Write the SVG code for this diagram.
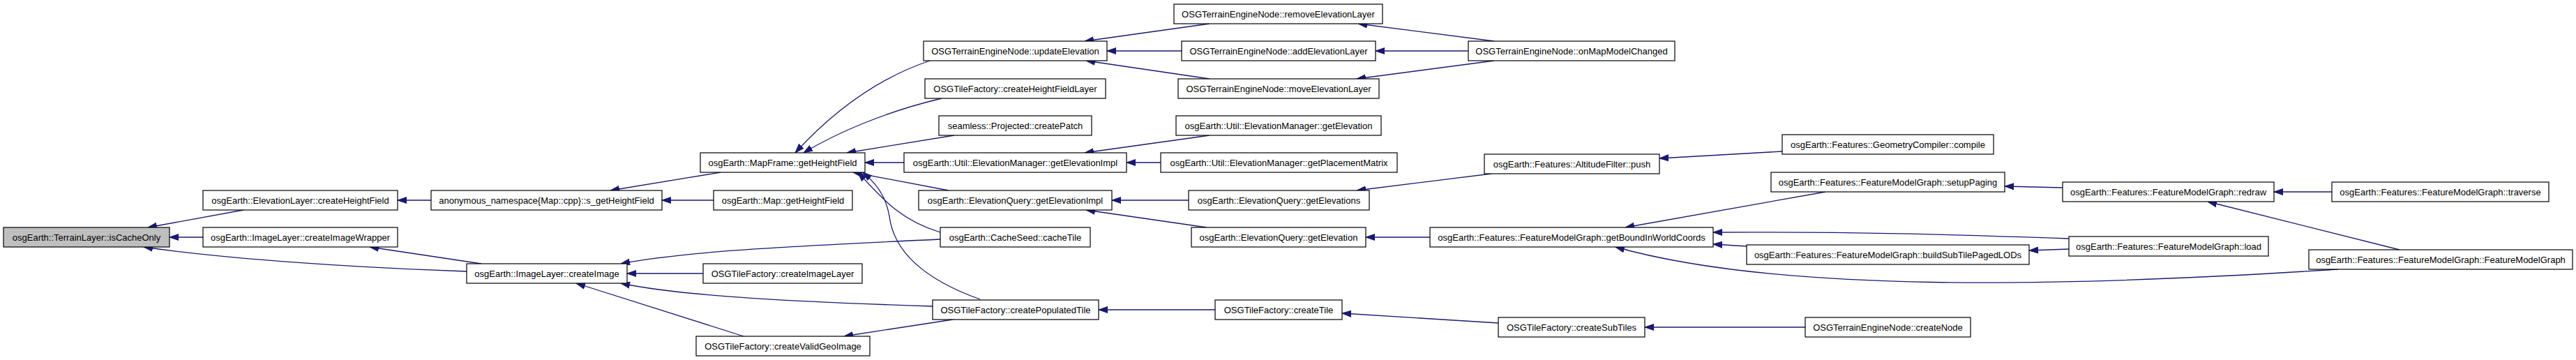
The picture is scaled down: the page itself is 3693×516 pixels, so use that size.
<svg xmlns="http://www.w3.org/2000/svg" width="3693" height="516" viewBox="0 0 3693 516">
<style>
.n{fill:#ffffff;stroke:#000000;stroke-width:1.2}
.root{fill:#bfbfbf;stroke:#000000;stroke-width:1.2}
text{font-family:"Liberation Sans",Arial,Helvetica,sans-serif;font-size:13px;fill:#000000;text-anchor:middle}
.e{fill:none;stroke:#191970;stroke-width:1.3;marker-end:url(#arr)}
</style>
<defs>
<marker id="arr" markerUnits="userSpaceOnUse" markerWidth="13" markerHeight="10" refX="13" refY="5" orient="auto">
<path d="M0,0.5 L13,5 L0,9.5 z" fill="#191970" stroke="#191970" stroke-width="1"/>
</marker>
</defs>
<rect width="3693" height="516" fill="#ffffff"/>
<g id="connectors">
<path class="e" d="M349,301 L212,326"/>
<path class="e" d="M291,340 L243,340"/>
<path class="e" d="M669,389 C520,384 330,372 206,354"/>
<path class="e" d="M690,378 L530,354"/>
<path class="e" d="M618,287 L570,287"/>
<path class="e" d="M1033,247 L875,273"/>
<path class="e" d="M1023,287 L949,287"/>
<path class="e" d="M1008,392 L899,392"/>
<path class="e" d="M1348,343 C1150,352 980,360 890,378"/>
<path class="e" d="M1337,439 C1150,433 980,425 890,406"/>
<path class="e" d="M1066,482 L826,406"/>
<path class="e" d="M1333,87 C1250,115 1185,170 1140,219"/>
<path class="e" d="M1350,141 C1270,160 1200,190 1152,219"/>
<path class="e" d="M1368,194 L1214,219"/>
<path class="e" d="M1296,233 L1240,233"/>
<path class="e" d="M1360,273 L1223,247"/>
<path class="e" d="M1348,333 C1290,315 1265,285 1230,247"/>
<path class="e" d="M1405,429 C1310,395 1280,350 1275,310 C1270,280 1255,262 1237,247"/>
<path class="e" d="M1734,34 L1555,59"/>
<path class="e" d="M1694,73 L1587,73"/>
<path class="e" d="M1734,113 L1557,87"/>
<path class="e" d="M1734,194 L1555,219"/>
<path class="e" d="M1664,233 L1615,233"/>
<path class="e" d="M1704,287 L1594,287"/>
<path class="e" d="M1730,326 L1557,301"/>
<path class="e" d="M1742,444 L1575,444"/>
<path class="e" d="M1366,458 L1210,482"/>
<path class="e" d="M2142,59 L1947,34"/>
<path class="e" d="M2105,73 L1972,73"/>
<path class="e" d="M2142,87 L1945,113"/>
<path class="e" d="M2138,249 L1945,273"/>
<path class="e" d="M2050,340 L1958,340"/>
<path class="e" d="M2148,463 L1924,449"/>
<path class="e" d="M2555,217 L2379,227"/>
<path class="e" d="M2617,275 L2330,326"/>
<path class="e" d="M2966,342 C2800,336 2650,332 2456,333"/>
<path class="e" d="M2504,353 L2456,350"/>
<path class="e" d="M2966,357 L2909,359"/>
<path class="e" d="M2957,269 L2874,267"/>
<path class="e" d="M3352,386 C2950,412 2550,420 2316,354"/>
<path class="e" d="M3343,275 L3260,275"/>
<path class="e" d="M3440,358 L3165,289"/>
<path class="e" d="M2588,469 L2358,469"/>
</g>
<g id="isCacheOnly"><rect class="root" x="5" y="326" width="238" height="28"/><text x="124" y="344.5">osgEarth::TerrainLayer::isCacheOnly</text></g>
<g id="createHeightField"><rect class="n" x="291" y="273" width="279" height="28"/><text x="430.5" y="291.5">osgEarth::ElevationLayer::createHeightField</text></g>
<g id="createImageWrapper"><rect class="n" x="291" y="326" width="279" height="28"/><text x="430.5" y="344.5">osgEarth::ImageLayer::createImageWrapper</text></g>
<g id="createImage"><rect class="n" x="669" y="378" width="230" height="28"/><text x="784" y="396.5">osgEarth::ImageLayer::createImage</text></g>
<g id="s_getHeightField"><rect class="n" x="618" y="273" width="331" height="28"/><text x="783.5" y="291.5">anonymous_namespace{Map::cpp}::s_getHeightField</text></g>
<g id="MapFrame_getHeightField"><rect class="n" x="1004" y="219" width="236" height="28"/><text x="1122" y="237.5">osgEarth::MapFrame::getHeightField</text></g>
<g id="Map_getHeightField"><rect class="n" x="1023" y="273" width="199" height="28"/><text x="1122.5" y="291.5">osgEarth::Map::getHeightField</text></g>
<g id="createImageLayer"><rect class="n" x="1008" y="378" width="228" height="28"/><text x="1122" y="396.5">OSGTileFactory::createImageLayer</text></g>
<g id="createValidGeoImage"><rect class="n" x="998" y="482" width="249" height="28"/><text x="1122.5" y="500.5">OSGTileFactory::createValidGeoImage</text></g>
<g id="updateElevation"><rect class="n" x="1324" y="59" width="263" height="28"/><text x="1455.5" y="77.5">OSGTerrainEngineNode::updateElevation</text></g>
<g id="createHeightFieldLayer"><rect class="n" x="1326" y="113" width="259" height="28"/><text x="1455.5" y="131.5">OSGTileFactory::createHeightFieldLayer</text></g>
<g id="createPatch"><rect class="n" x="1346" y="166" width="219" height="28"/><text x="1455.5" y="184.5">seamless::Projected::createPatch</text></g>
<g id="EM_getElevationImpl"><rect class="n" x="1296" y="219" width="319" height="28"/><text x="1455.5" y="237.5">osgEarth::Util::ElevationManager::getElevationImpl</text></g>
<g id="EQ_getElevationImpl"><rect class="n" x="1317" y="273" width="277" height="28"/><text x="1455.5" y="291.5">osgEarth::ElevationQuery::getElevationImpl</text></g>
<g id="cacheTile"><rect class="n" x="1348" y="326" width="215" height="28"/><text x="1455.5" y="344.5">osgEarth::CacheSeed::cacheTile</text></g>
<g id="createPopulatedTile"><rect class="n" x="1337" y="430" width="238" height="28"/><text x="1456" y="448.5">OSGTileFactory::createPopulatedTile</text></g>
<g id="removeElevationLayer"><rect class="n" x="1683" y="6" width="299" height="28"/><text x="1832.5" y="24.5">OSGTerrainEngineNode::removeElevationLayer</text></g>
<g id="addElevationLayer"><rect class="n" x="1694" y="59" width="278" height="28"/><text x="1833" y="77.5">OSGTerrainEngineNode::addElevationLayer</text></g>
<g id="moveElevationLayer"><rect class="n" x="1689" y="113" width="288" height="28"/><text x="1833" y="131.5">OSGTerrainEngineNode::moveElevationLayer</text></g>
<g id="EM_getElevation"><rect class="n" x="1686" y="166" width="294" height="28"/><text x="1833" y="184.5">osgEarth::Util::ElevationManager::getElevation</text></g>
<g id="getPlacementMatrix"><rect class="n" x="1664" y="219" width="339" height="28"/><text x="1833.5" y="237.5">osgEarth::Util::ElevationManager::getPlacementMatrix</text></g>
<g id="getElevations"><rect class="n" x="1704" y="273" width="259" height="28"/><text x="1833.5" y="291.5">osgEarth::ElevationQuery::getElevations</text></g>
<g id="EQ_getElevation"><rect class="n" x="1708" y="326" width="250" height="28"/><text x="1833" y="344.5">osgEarth::ElevationQuery::getElevation</text></g>
<g id="createTile"><rect class="n" x="1742" y="430" width="182" height="28"/><text x="1833" y="448.5">OSGTileFactory::createTile</text></g>
<g id="onMapModelChanged"><rect class="n" x="2105" y="59" width="296" height="28"/><text x="2253" y="77.5">OSGTerrainEngineNode::onMapModelChanged</text></g>
<g id="AltitudeFilter_push"><rect class="n" x="2128" y="221" width="251" height="28"/><text x="2253.5" y="239.5">osgEarth::Features::AltitudeFilter::push</text></g>
<g id="getBoundInWorldCoords"><rect class="n" x="2050" y="326" width="406" height="28"/><text x="2253" y="344.5">osgEarth::Features::FeatureModelGraph::getBoundInWorldCoords</text></g>
<g id="createSubTiles"><rect class="n" x="2148" y="455" width="210" height="28"/><text x="2253" y="473.5">OSGTileFactory::createSubTiles</text></g>
<g id="compile"><rect class="n" x="2555" y="193" width="303" height="28"/><text x="2706.5" y="211.5">osgEarth::Features::GeometryCompiler::compile</text></g>
<g id="setupPaging"><rect class="n" x="2539" y="247" width="335" height="28"/><text x="2706.5" y="265.5">osgEarth::Features::FeatureModelGraph::setupPaging</text></g>
<g id="buildSubTilePagedLODs"><rect class="n" x="2504" y="351" width="405" height="28"/><text x="2706.5" y="369.5">osgEarth::Features::FeatureModelGraph::buildSubTilePagedLODs</text></g>
<g id="createNode"><rect class="n" x="2588" y="455" width="237" height="28"/><text x="2706.5" y="473.5">OSGTerrainEngineNode::createNode</text></g>
<g id="redraw"><rect class="n" x="2957" y="261" width="303" height="28"/><text x="3108.5" y="279.5">osgEarth::Features::FeatureModelGraph::redraw</text></g>
<g id="load"><rect class="n" x="2966" y="339" width="286" height="28"/><text x="3109" y="357.5">osgEarth::Features::FeatureModelGraph::load</text></g>
<g id="traverse"><rect class="n" x="3343" y="261" width="311" height="28"/><text x="3498.5" y="279.5">osgEarth::Features::FeatureModelGraph::traverse</text></g>
<g id="FeatureModelGraph_ctor"><rect class="n" x="3310" y="358" width="378" height="28"/><text x="3499" y="376.5">osgEarth::Features::FeatureModelGraph::FeatureModelGraph</text></g>
</svg>
